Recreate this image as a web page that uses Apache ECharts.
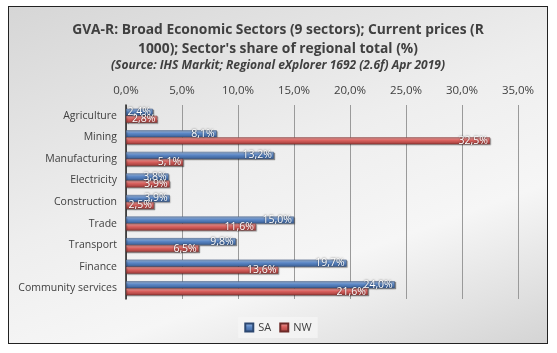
<!DOCTYPE html>
<html>
<head>
<meta charset="utf-8">
<script src="https://cdn.jsdelivr.net/npm/echarts@6/dist/echarts.min.js"></script>
<style>
html,body{margin:0;padding:0;background:#fff;}
#chart{position:absolute;left:8px;top:6px;width:540px;height:338px;border:1px solid #222;box-sizing:border-box;
background:linear-gradient(160deg,#d6d6d6 0%,#eeeeee 45%,#f6f6f6 70%,#d4d4d4 100%);}
</style>
</head>
<body>
<div id="chart"></div>
<script>
// sectors, top to bottom
var sectors = ['Agriculture','Mining','Manufacturing','Electricity','Construction','Trade','Transport','Finance','Community services'];
var saShare = [2.4, 8.1, 13.2, 3.8, 3.9, 15.0, 9.8, 19.7, 24.0];
var nwShare = [2.8, 32.5, 5.1, 3.9, 2.5, 11.6, 6.5, 13.6, 21.6];
var seriesNames = ['SA','NW'];
var font = 'Open Sans';

function pct(v){ return v.toFixed(1).replace('.', ',') + '%'; }

function barColor(light, mid, dark){
	return new echarts.graphic.LinearGradient(0,0,0,1,[
		{offset:0, color:light},{offset:0.45, color:mid},{offset:1, color:dark}
	]);
}

var chart = echarts.init(document.getElementById('chart'), null, {renderer:'canvas'});
var labelOpt = {
	show:true, position:'insideRight', distance:2,
	color:'#fff', fontFamily:font, fontSize:10.5,
	textShadowColor:'rgba(0,0,0,0.7)', textShadowBlur:2,
	formatter:function(p){ return pct(p.value); }
};
chart.setOption({
	animation:false,
	title:[{
		text:"GVA-R: Broad Economic Sectors (9 sectors); Current prices (R\n1000); Sector's share of regional total (%)",
		left:'center', top:9,
		textStyle:{fontFamily:font, fontWeight:'bold', fontSize:13.8, color:'#404040', lineHeight:19}
	},{
		text:'(Source: IHS Markit; Regional eXplorer 1692 (2.6f) Apr 2019)',
		left:'center', top:48,
		textStyle:{fontFamily:font, fontWeight:'bold', fontStyle:'italic', fontSize:12, color:'#404040'}
	}],
	legend:{
		data:seriesNames, bottom:5, left:'center', icon:'rect',
		itemWidth:8, itemHeight:8, itemGap:8,
		backgroundColor:'rgba(245,245,245,0.8)', padding:[5,6],
		textStyle:{fontFamily:font, fontSize:11, color:'#404040'}
	},
	grid:{left:117, right:29, top:98, bottom:44},
	xAxis:{
		type:'value', position:'top', min:0, max:35, interval:5,
		axisLabel:{fontFamily:font, fontSize:11.5, color:'#404040', margin:8, formatter:function(v){ return pct(v); }},
		axisLine:{show:false}, axisTick:{show:false},
		splitLine:{lineStyle:{color:'#9a9a9a', width:1}}
	},
	yAxis:{
		type:'category', data:sectors, inverse:true,
		axisLine:{lineStyle:{color:'#222', width:1.5}}, axisTick:{show:false},
		axisLabel:{fontFamily:font, fontSize:10.5, color:'#404040', margin:9}
	},
	series:[{
		name:seriesNames[0], type:'bar', data:saShare, barWidth:7, barGap:'0%',
		itemStyle:{color:barColor('#a9c4e8','#5b87c6','#3a5f95'), borderColor:'#2c4770', borderWidth:0.5,
			shadowColor:'rgba(0,0,0,0.35)', shadowOffsetX:1, shadowOffsetY:1, shadowBlur:1},
		label:labelOpt
	},{
		name:seriesNames[1], type:'bar', data:nwShare, barWidth:7,
		itemStyle:{color:barColor('#f0a9a7','#d9605d','#9e3b39'), borderColor:'#6d2a28', borderWidth:0.5,
			shadowColor:'rgba(0,0,0,0.35)', shadowOffsetX:1, shadowOffsetY:1, shadowBlur:1},
		label:labelOpt
	}]
});
</script>
</body>
</html>
